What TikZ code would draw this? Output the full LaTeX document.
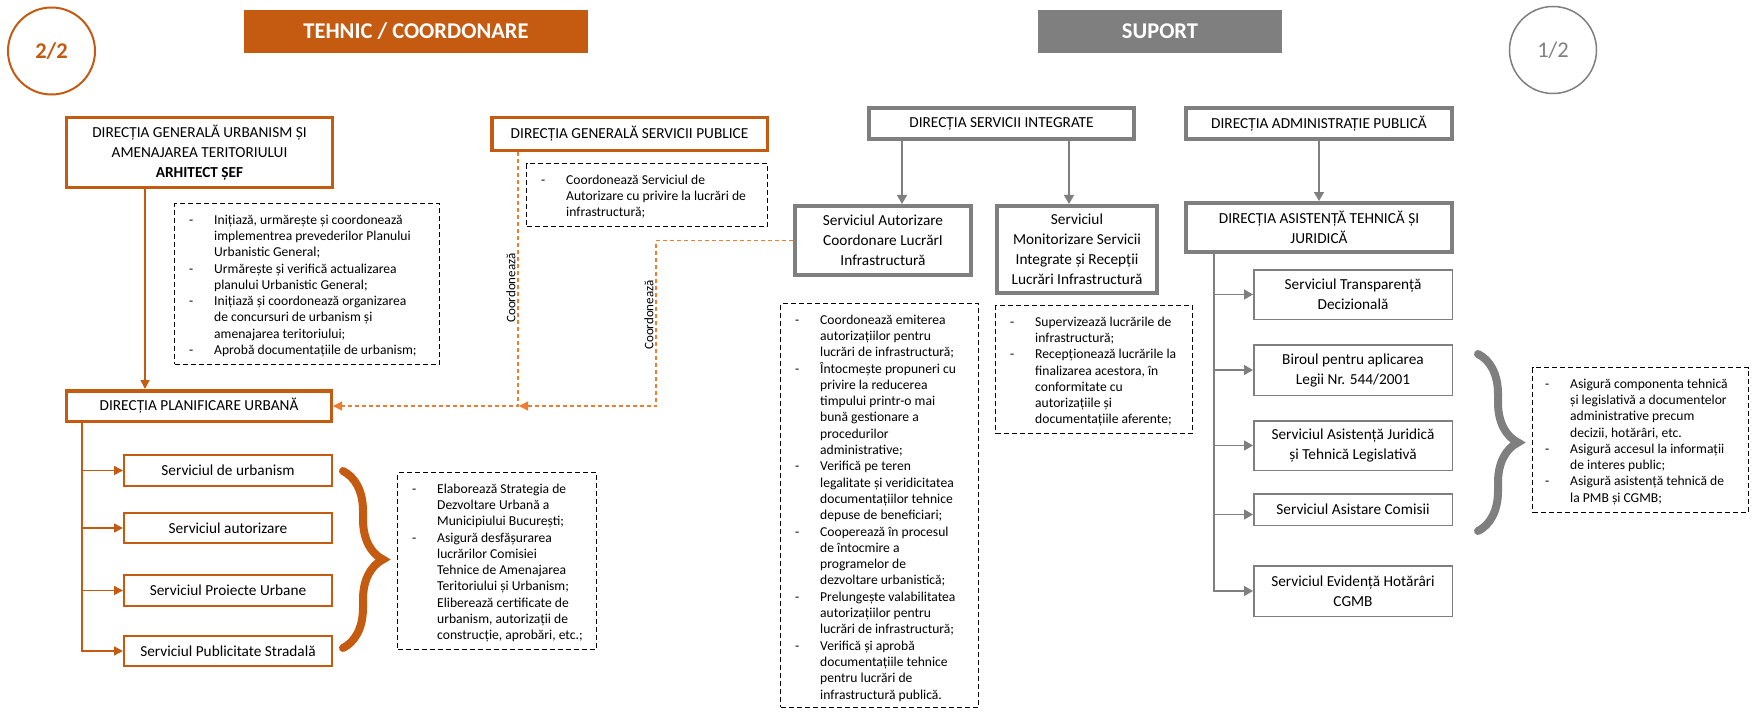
\documentclass[tikz,border=0pt]{standalone}
\usepackage{fontspec}
\setmainfont{Carlito}
\usetikzlibrary{arrows.meta,decorations.pathreplacing,calc}
\definecolor{org}{HTML}{C55A11}
\definecolor{orgl}{HTML}{ED7D31}
\definecolor{gry}{HTML}{7F7F7F}
\newcommand\bxfont{\fontsize{15.3bp}{20bp}\selectfont}
\newcommand\dsfont{\fontsize{13.6bp}{16.3bp}\selectfont}
\newcommand\bnfont{\fontsize{22.5bp}{27bp}\selectfont\bfseries}
\newcommand\lbfont{\fontsize{13bp}{15bp}\selectfont}
\newcommand\dlist[1]{\dsfont\begin{tabular}{@{}p{25bp}@{}l@{}}#1\end{tabular}}
\begin{document}
\begin{tikzpicture}[x=1bp,y=-1bp,
  obox/.style={draw=org,line width=3.5bp,fill=white,align=center,inner sep=0,font=\bxfont},
  osbox/.style={draw=org,line width=2bp,fill=white,align=center,inner sep=0,font=\bxfont},
  gbox/.style={draw=gry,line width=4bp,fill=white,align=center,inner sep=0,font=\bxfont},
  gsbox/.style={draw=gry,line width=1.5bp,fill=white,align=center,inner sep=0,font=\bxfont},
  dbox/.style={draw=black,line width=1.3bp,dash pattern=on 5bp off 3bp,inner sep=0},
  dtext/.style={anchor=north west,inner sep=0},
  oarrow/.style={draw=org,line width=1.5bp,-{Triangle[length=9bp,width=9bp]}},
  garrow/.style={draw=gry,line width=1.5bp,-{Triangle[length=9bp,width=10bp]}},
  odash/.style={draw=orgl,line width=1.3bp,dash pattern=on 4bp off 3bp,-{Triangle[length=9bp,width=9bp]}},
  bracestyle/.style={line width=8bp,line cap=round,decorate,decoration={brace,amplitude=40bp}},
  lbl/.style={rotate=90,font=\lbfont,inner sep=1bp}
]
\useasboundingbox (0,0) rectangle (1752,712);

% headers
\node[circle,draw=org,line width=2bp,minimum size=87bp,inner sep=0,text=org,font=\bnfont] (c22) at (51.5,51) {2/2};
\node[fill=org,minimum width=344bp,minimum height=43bp,inner sep=0,text=white,font=\bnfont] (bt) at (416,31.5) {TEHNIC / COORDONARE};
\node[fill=gry,minimum width=244bp,minimum height=43bp,inner sep=0,text=white,font=\bnfont] (bs) at (1160,31.5) {SUPORT};
\node[circle,draw=gry,line width=1.5bp,minimum size=87bp,inner sep=0,text=gry,font=\fontsize{22.5bp}{27bp}\selectfont] (c12) at (1553,50) {1/2};

% left column
\node[obox,minimum width=265.5bp,minimum height=69.5bp] (dgu) at (199.5,152.5)
  {DIRECȚIA GENERALĂ URBANISM ȘI\\AMENAJAREA TERITORIULUI\\\textbf{ARHITECT ȘEF}};
\node[obox,minimum width=264.5bp,minimum height=30.5bp] (dpu) at (199,406) {DIRECȚIA PLANIFICARE URBANĂ};
\node[osbox,minimum width=208bp,minimum height=31bp] (s1) at (228,470.5) {Serviciul de urbanism};
\node[osbox,minimum width=208bp,minimum height=30bp] (s2) at (228,528) {Serviciul autorizare};
\node[osbox,minimum width=208bp,minimum height=31bp] (s3) at (228,590.5) {Serviciul Proiecte Urbane};
\node[osbox,minimum width=208bp,minimum height=30bp] (s4) at (228,651) {Serviciul Publicitate Stradală};

\node[dbox,minimum width=264.7bp,minimum height=160.7bp] (dguD) at (307,284) {};
\node[dtext] at ([xshift=15bp,yshift=-9.5bp]dguD.north west) {\dlist{
- & Inițiază, urmărește și coordonează\\
  & implementrea prevederilor Planului\\
  & Urbanistic General;\\
- & Urmărește și verifică actualizarea\\
  & planului Urbanistic General;\\
- & Inițiază și coordonează organizarea\\
  & de concursuri de urbanism și\\
  & amenajarea teritoriului;\\
- & Aprobă documentațiile de urbanism;}};

\draw[org,bracestyle] (343,471) -- (343,648);
\node[dbox,minimum width=198.7bp,minimum height=176.7bp] (lbD) at (497,561) {};
\node[dtext] at ([xshift=15bp,yshift=-9.5bp]lbD.north west) {\dlist{
- & Elaborează Strategia de\\
  & Dezvoltare Urbană a\\
  & Municipiului București;\\
- & Asigură desfășurarea\\
  & lucrărilor Comisiei\\
  & Tehnice de Amenajarea\\
  & Teritoriului și Urbanism;\\
  & Eliberează certificate de\\
  & urbanism, autorizații de\\
  & construcție, aprobări, etc.;}};

% DGSP
\node[obox,minimum width=275.5bp,minimum height=32.5bp] (dgsp) at (629.5,134) {DIRECȚIA GENERALĂ SERVICII PUBLICE};
\node[dbox,minimum width=240.7bp,minimum height=62.7bp] (dgspD) at (647,195) {};
\node[dtext] at ([xshift=15bp,yshift=-9.5bp]dgspD.north west) {\dlist{
- & Coordonează Serviciul de\\
  & Autorizare cu privire la lucrări de\\
  & infrastructură;}};

% SUPORT middle
\node[gbox,minimum width=265bp,minimum height=31bp] (dsi) at (1001.5,123.5) {DIRECȚIA SERVICII INTEGRATE};
\node[gbox,minimum width=176bp,minimum height=69bp] (sacli) at (883,240.5) {Serviciul Autorizare\\Coordonare LucrărI\\Infrastructură};
\node[gbox,minimum width=160bp,minimum height=87bp] (smsi) at (1077,249.5) {Serviciul\\Monitorizare Servicii\\Integrate și Recepții\\Lucrări Infrastructură};
\node[dbox,minimum width=197.7bp,minimum height=403.7bp] (sacliD) at (879.5,505.5) {};
\node[dtext] at ([xshift=15bp,yshift=-9.5bp]sacliD.north west) {\dlist{
- & Coordonează emiterea\\
  & autorizațiilor pentru\\
  & lucrări de infrastructură;\\
- & Întocmește propuneri cu\\
  & privire la reducerea\\
  & timpului printr-o mai\\
  & bună gestionare a\\
  & procedurilor\\
  & administrative;\\
- & Verifică pe teren\\
  & legalitate și veridicitatea\\
  & documentațiilor tehnice\\
  & depuse de beneficiari;\\
- & Cooperează în procesul\\
  & de întocmire a\\
  & programelor de\\
  & dezvoltare urbanistică;\\
- & Prelungește valabilitatea\\
  & autorizațiilor pentru\\
  & lucrări de infrastructură;\\
- & Verifică și aprobă\\
  & documentațiile tehnice\\
  & pentru lucrări de\\
  & infrastructură publică.}};
\node[dbox,minimum width=196.7bp,minimum height=127.7bp] (smsiD) at (1094,369.5) {};
\node[dtext] at ([xshift=15bp,yshift=-9.5bp]smsiD.north west) {\dlist{
- & Supervizează lucrările de\\
  & infrastructură;\\
- & Recepționează lucrările la\\
  & finalizarea acestora, în\\
  & conformitate cu\\
  & autorizațiile și\\
  & documentațiile aferente;}};

% SUPORT right
\node[gbox,minimum width=266bp,minimum height=31bp] (dap) at (1319,123.5) {DIRECȚIA ADMINISTRAȚIE PUBLICĂ};
\node[gbox,minimum width=266bp,minimum height=49bp] (datj) at (1319,227.5) {DIRECȚIA ASISTENȚĂ TEHNICĂ ȘI\\JURIDICĂ};
\node[gsbox,minimum width=198.5bp,minimum height=49.5bp] (b1) at (1353,294.5) {Serviciul Transparență\\Decizională};
\node[gsbox,minimum width=198.5bp,minimum height=50.5bp] (b2) at (1353,370) {Biroul pentru aplicarea\\Legii Nr. 544/2001};
\node[gsbox,minimum width=198.5bp,minimum height=49.5bp] (b3) at (1353,445.5) {Serviciul Asistență Juridică\\și Tehnică Legislativă};
\node[gsbox,minimum width=198.5bp,minimum height=31.5bp] (b4) at (1353,509.5) {Serviciul Asistare Comisii};
\node[gsbox,minimum width=198.5bp,minimum height=50.5bp] (b5) at (1353,591) {Serviciul Evidență Hotărâri\\CGMB};
\draw[gry,bracestyle] (1478,354) -- (1478,531);
\node[dbox,minimum width=215.7bp,minimum height=144.7bp] (rD) at (1640.5,440) {};
\node[dtext] at ([xshift=13bp,yshift=-9.5bp]rD.north west) {\dlist{
- & Asigură componenta tehnică\\
  & și legislativă a documentelor\\
  & administrative precum\\
  & decizii, hotărâri, etc.\\
- & Asigură accesul la informații\\
  & de interes public;\\
- & Asigură asistență tehnică de\\
  & la PMB și CGMB;}};

% connectors
\coordinate (a1) at ([xshift=80bp]dgu.south west);
\draw[oarrow] (a1) -- (a1 |- dpu.north);
\coordinate (a2) at ([xshift=17bp]dpu.south west);
\foreach \n in {s1,s2,s3,s4} \draw[oarrow] (a2) |- (\n.west);

\coordinate (a3) at ([xshift=35bp]dsi.south west);
\draw[garrow] (a3) -- (a3 |- sacli.north);
\coordinate (a4) at ([xshift=202bp]dsi.south west);
\draw[garrow] (a4) -- (a4 |- smsi.north);
\draw[garrow] (dap.south) -- (datj.north);
\coordinate (a5) at ([xshift=30bp]datj.south west);
\foreach \n in {b1,b2,b3,b5} \draw[garrow] (a5) |- (\n.west);
\draw[garrow] (a5) |- ([yshift=-5bp]b4.west);

\coordinate (a6) at ([xshift=28bp]dgsp.south west);
\coordinate (j1) at (a6 |- dpu.east);
\draw[odash] (a6) -- (j1) -- (dpu.east);
\coordinate (k1) at ([xshift=-137bp]sacli.west);
\draw[odash] (sacli.west) -- (k1) -- (k1 |- j1) -- ([xshift=1bp]j1);
\node[lbl] (l1) at (511,288) {Coordonează};
\node[lbl] (l2) at (649,315) {Coordonează};
\end{tikzpicture}
\end{document}
